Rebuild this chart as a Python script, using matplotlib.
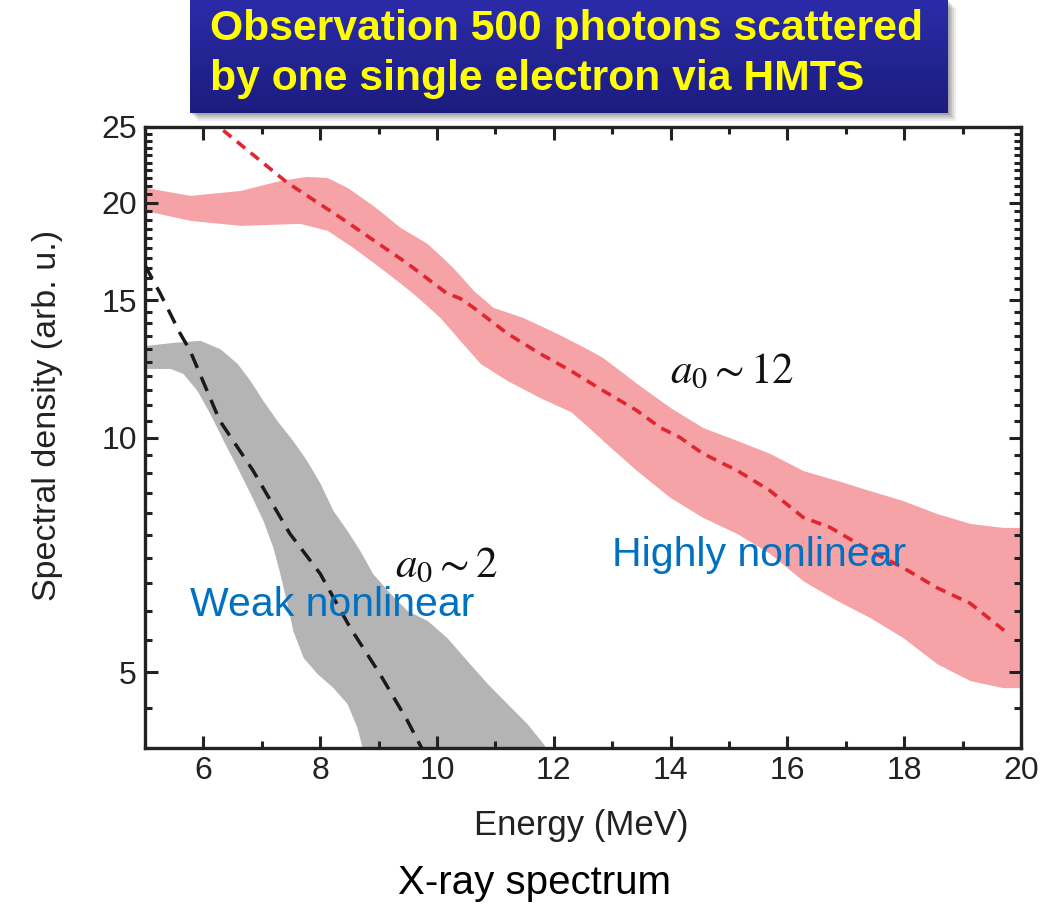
import numpy as np
import matplotlib.pyplot as plt
from matplotlib.patches import Rectangle
from matplotlib.ticker import FixedLocator, NullFormatter

plt.rcParams['font.family'] = ['Liberation Sans', 'DejaVu Sans']
plt.rcParams['mathtext.fontset'] = 'stix'

# a0 ~ 12 (highly nonlinear): band edges and central estimate
hi_x_upper = [5.0, 5.77, 6.63, 7.31, 7.77, 8.12, 8.46, 8.90, 9.37, 9.83, 10.27, 10.62, 10.96,
              11.47, 12.05, 12.62, 12.84, 13.42, 13.99, 14.55, 15.14, 15.70, 16.27, 16.85,
              17.41, 17.98, 18.56, 19.13, 19.69, 20.0]
hi_upper = [20.92, 20.43, 20.73, 21.35, 21.61, 21.54, 20.92, 19.84, 18.59, 17.73, 16.52, 15.44,
            14.68, 14.25, 13.60, 12.93, 12.66, 11.73, 10.93, 10.30, 9.91, 9.54, 9.07, 8.81,
            8.55, 8.30, 7.99, 7.76, 7.67, 7.67]
hi_x_lower = [5.0, 5.77, 6.63, 7.65, 8.12, 8.56, 9.02, 9.59, 10.05, 10.39, 10.74, 11.20, 11.76,
              12.30, 12.84, 13.42, 13.99, 14.55, 15.14, 15.70, 16.27, 16.85, 17.41, 17.98,
              18.56, 19.13, 19.69, 20.0]
hi_lower = [19.54, 18.98, 18.70, 18.81, 18.43, 17.52, 16.52, 15.30, 14.25, 13.32, 12.44, 11.83,
            11.25, 10.78, 9.91, 9.07, 8.38, 7.90, 7.53, 7.10, 6.55, 6.18, 5.88, 5.54, 5.13,
            4.88, 4.78, 4.78]
hi_fit_x = [6.34, 7.43, 8.34, 9.49, 10.17, 10.39, 10.62, 11.20, 11.76, 12.28, 12.84, 13.42,
            13.82, 14.16, 14.55, 15.14, 15.70, 16.27, 16.73, 17.41, 17.98, 18.56, 19.13, 19.76]
hi_fit = [24.75, 21.23, 19.15, 16.72, 15.30, 15.08, 14.68, 13.60, 12.81, 12.19, 11.49, 10.83,
          10.30, 10.00, 9.54, 9.07, 8.55, 7.90, 7.67, 7.16, 6.81, 6.42, 6.13, 5.62]

# a0 ~ 2 (weak nonlinear)
lo_x_upper = [5.0, 5.48, 5.94, 6.28, 6.58, 6.80, 7.02, 7.26, 7.53, 7.77, 8.00, 8.22, 8.46,
              8.68, 8.90, 9.20, 9.49, 9.83, 10.17, 10.51, 10.86, 11.20, 11.54, 11.82, 12.0]
lo_upper = [13.12, 13.24, 13.32, 13.00, 12.44, 11.83, 11.15, 10.51, 9.91, 9.34, 8.73, 8.06,
            7.60, 7.16, 6.69, 6.31, 6.00, 5.83, 5.54, 5.18, 4.84, 4.56, 4.30, 4.05, 3.85]
lo_x_lower = [5.0, 5.43, 5.65, 5.89, 6.11, 6.34, 6.58, 6.80, 7.02, 7.19, 7.31, 7.43, 7.53,
              7.71, 7.95, 8.22, 8.46, 8.63, 8.72, 8.78]
lo_lower = [12.26, 12.26, 12.08, 11.49, 10.73, 9.91, 9.15, 8.48, 7.83, 7.23, 6.69, 6.13, 5.66,
            5.22, 4.98, 4.78, 4.56, 4.25, 4.00, 3.85]
lo_fit_x = [5.0, 5.26, 5.60, 5.77, 6.28, 6.85, 7.48, 8.00, 8.51, 9.02, 9.49, 9.76, 9.85]
lo_fit = [16.62, 15.30, 13.60, 12.93, 10.51, 9.07, 7.53, 6.69, 5.71, 4.98, 4.34, 3.97, 3.85]

y_major = [5, 10, 15, 20, 25]
x_major = [6, 8, 10, 12, 14, 16, 18, 20]

W, H = 1061, 906
fig = plt.figure(figsize=(W / 100, H / 100), dpi=100)

# banner with vertical blue gradient and a soft drop shadow
for i, a in enumerate([0.10, 0.14, 0.18, 0.22]):
    off = 8 - 2 * i
    fig.patches.append(Rectangle((190 / W + off / W, 1 - (113 + off) / H), 758 / W, 113 / H,
                                 transform=fig.transFigure, color='#555555', alpha=a,
                                 lw=0, zorder=0))
bax = fig.add_axes([190 / W, 1 - 113 / H, 758 / W, 113 / H], zorder=1)
grad = np.linspace(0, 1, 256)[:, None]
top = np.array([0.17, 0.17, 0.66])
bot = np.array([0.11, 0.11, 0.50])
img = top[None, None, :] * (1 - grad[..., None]) + bot[None, None, :] * grad[..., None]
bax.imshow(img, aspect='auto', extent=[0, 1, 0, 1])
bax.set_axis_off()
fig.text(210 / W, 1 - 29 / H, 'Observation 500 photons scattered', color='#ffff00',
         fontsize=30.7, fontweight='bold', va='center', ha='left', zorder=3)
fig.text(210 / W, 1 - 79 / H, 'by one single electron via HMTS', color='#ffff00',
         fontsize=30.7, fontweight='bold', va='center', ha='left', zorder=3)

ax = fig.add_axes([145 / W, 1 - 748 / H, 876 / W, 621 / H])
ax.set_yscale('log')

gx = np.union1d(lo_x_upper, lo_x_lower)
ax.fill_between(gx, np.interp(gx, lo_x_lower, lo_lower, right=3.85),
                np.interp(gx, lo_x_upper, lo_upper), color='#b4b4b4', lw=0, zorder=1)
hx = np.union1d(hi_x_upper, hi_x_lower)
ax.fill_between(hx, np.interp(hx, hi_x_lower, hi_lower), np.interp(hx, hi_x_upper, hi_upper),
                color='#f5a3a7', lw=0, zorder=1)

ax.plot(lo_fit_x, lo_fit, color='#1a1a1a', lw=2.5, ls=(0, (4.4, 2.8)), zorder=3)
ax.plot(hi_fit_x, hi_fit, color='#e02630', lw=2.6, ls=(0, (2.9, 2.0)), zorder=3)

ax.set_xlim(5, 20)
ax.set_ylim(4, 25)
ax.set_xticks(x_major)
ax.set_xticks(np.arange(5, 20, 2), minor=True)
ax.yaxis.set_major_locator(FixedLocator(y_major))
ax.yaxis.set_minor_locator(FixedLocator(np.arange(4.0, 25.01, 0.5)))
ax.set_yticklabels([str(v) for v in y_major])
ax.yaxis.set_minor_formatter(NullFormatter())
ax.tick_params(which='both', direction='in', top=True, right=True, width=2.2,
               labelsize=23, colors='#222222', pad=6)
ax.tick_params(which='major', length=9)
ax.tick_params(which='minor', length=5)
for s in ax.spines.values():
    s.set_linewidth(2.4)
    s.set_color('#222222')

fig.text(581 / W, 1 - 825 / H, 'Energy (MeV)', fontsize=25, color='#222222',
         ha='center', va='center')
fig.text(48 / W, 1 - 415 / H, 'Spectral density (arb. u.)', rotation=90, fontsize=24.5,
         color='#222222', ha='center', va='center')

ax.text(5.77, 5.91, 'Weak nonlinear', color='#0070c0', fontsize=29.5, zorder=4)
ax.text(13.0, 6.85, 'Highly nonlinear', color='#0070c0', fontsize=29.5, zorder=4)
ax.text(9.28, 6.61, r'$a_0 \sim 2$', color='#111111', fontsize=31, zorder=4)
ax.text(13.99, 11.73, r'$a_0 \sim 12$', color='#111111', fontsize=31, zorder=4)

fig.text(535 / W, 1 - 883 / H, 'X-ray spectrum', fontsize=29, color='black',
         ha='center', va='center')

fig.savefig('out.png', dpi=100)
